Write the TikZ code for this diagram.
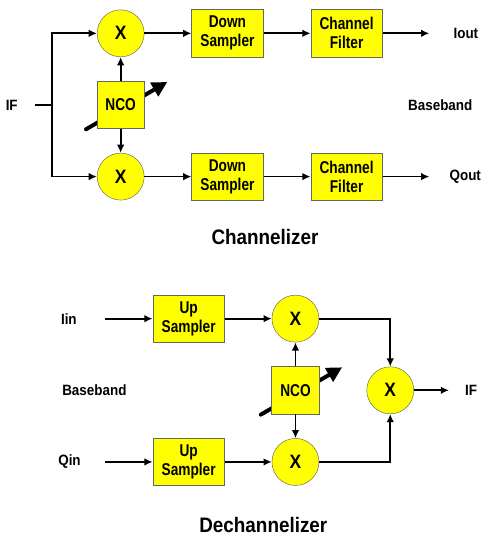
\documentclass[tikz,border=0pt]{standalone}
\usepackage{fontspec}
\setmainfont{Liberation Sans}
\newfontfamily\blockfont{Liberation Sans}[FakeStretch=0.8]
\newfontfamily\labelfont{Liberation Sans}[FakeStretch=0.9]
\usepackage{xcolor}
\usepackage{tikz}
\usetikzlibrary{arrows.meta,positioning,backgrounds}
\definecolor{blockyellow}{RGB}{255,255,0}

\begin{document}
\begin{tikzpicture}[
    node distance=0.72cm and 1.41cm,
    block/.style={rectangle, draw=black!60, fill=blockyellow, minimum width=2.15cm, minimum height=1.42cm, inner sep=0pt, align=center, font=\blockfont\bfseries\fontsize{14.6}{16.2}\selectfont},
    nco/.style={block, minimum width=1.43cm},
    mixer/.style={circle, draw=black!60, fill=blockyellow, minimum size=1.41cm, inner sep=0pt, font=\labelfont\bfseries\fontsize{16.5}{18}\selectfont},
    sig/.style={inner sep=0pt, font=\labelfont\bfseries\fontsize{12.75}{15}\selectfont},
    heading/.style={inner sep=0pt, font=\labelfont\bfseries\fontsize{17.9}{21}\selectfont},
    line/.style={draw, line width=1.5pt, -{Latex[length=7pt,width=6.5pt]}},
    wire/.style={draw, line width=1.5pt},
    tune/.style={draw, line width=3.4pt, line cap=round, -{Triangle[length=13pt,width=13pt]}}
]
    \useasboundingbox (0,0) rectangle (14.43,-16.14);

    % --- Channelizer ---
    \node [mixer] (mixI) at (3.62,-1.0) {X};
    \node [nco, below=of mixI] (nco) {NCO};
    \node [mixer, below=of nco] (mixQ) {X};
    \node [block, right=of mixI] (dsI) {Down\\Sampler};
    \node [block, right=of dsI] (cfI) {Channel\\Filter};
    \node [block, right=of mixQ] (dsQ) {Down\\Sampler};
    \node [block, right=of dsQ] (cfQ) {Channel\\Filter};

    \coordinate [right=1.4cm of cfI] (ioutEnd);
    \node [sig, right=0.72cm of ioutEnd] (iout) {Iout};
    \coordinate [right=1.4cm of cfQ] (qoutEnd);
    \node [sig, right=0.6cm of qoutEnd] (qout) {Qout};
    \node [sig, xshift=2.81cm] (bbOut) at (cfI |- nco) {Baseband};

    \coordinate [left=1.34cm of mixI.west] (splitTop);
    \coordinate (split) at (splitTop |- nco);
    \coordinate [left=0.53cm of split] (ifStart);
    \node [sig, left=0.5cm of ifStart] (ifIn) {IF};

    \node [heading] (chanTitle) at (7.95,-7.12) {Channelizer};

    % Paths
    \path [wire] (ifStart) -- (split);
    \path [line] (split) |- (mixI);
    \path [line] (split) |- (mixQ);
    \path [line] (nco) -- (mixI);
    \path [line] (nco) -- (mixQ);
    \path [line] (mixI) -- (dsI);
    \path [line] (dsI) -- (cfI);
    \path [line] (cfI) -- (ioutEnd);
    \path [line] (mixQ) -- (dsQ);
    \path [line] (dsQ) -- (cfQ);
    \path [line] (cfQ) -- (qoutEnd);

    % --- Dechannelizer ---
    \node [block] (usI) at (5.66,-9.56) {Up\\Sampler};
    \node [mixer, right=of usI] (mixI2) {X};
    \node [nco, below=of mixI2] (nco2) {NCO};
    \node [mixer, below=of nco2] (mixQ2) {X};
    \node [block, left=of mixQ2] (usQ) {Up\\Sampler};
    \node [mixer, right=of nco2] (sum) {X};

    \coordinate [left=1.43cm of usI] (iinStart);
    \node [sig, left=0.84cm of iinStart] (iin) {Iin};
    \coordinate [left=1.43cm of usQ] (qinStart);
    \node [sig, left=0.72cm of qinStart] (qin) {Qin};
    \node [sig, left=4.34cm of nco2] (bbIn) {Baseband};
    \coordinate [right=1.05cm of sum] (ifEnd);
    \node [sig, right=0.48cm of ifEnd] (ifOut) {IF};

    \node [heading] (dechanTitle) at (7.9,-15.74) {Dechannelizer};

    % Paths
    \path [line] (iinStart) -- (usI);
    \path [line] (usI) -- (mixI2);
    \path [line] (qinStart) -- (usQ);
    \path [line] (usQ) -- (mixQ2);
    \path [line] (nco2) -- (mixI2);
    \path [line] (nco2) -- (mixQ2);
    \path [line] (mixI2) -| (sum);
    \path [line] (mixQ2) -| (sum);
    \path [line] (sum) -- (ifEnd);

    % Tuning arrows behind the NCOs
    \begin{scope}[on background layer]
        \path [tune] ([shift={(-1.04,-0.73)}]nco.center) -- ([shift={(1.40,0.69)}]nco.center);
        \path [tune] ([shift={(-1.04,-0.73)}]nco2.center) -- ([shift={(1.40,0.69)}]nco2.center);
    \end{scope}

\end{tikzpicture}
\end{document}
